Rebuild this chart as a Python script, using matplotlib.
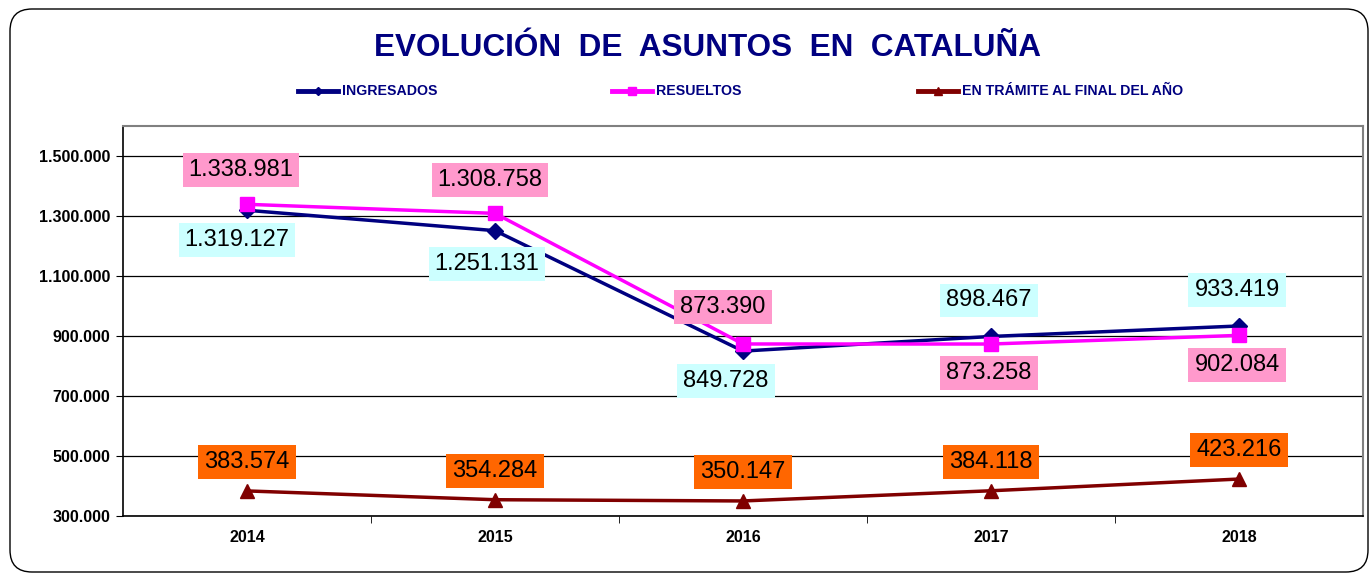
import matplotlib
matplotlib.use("Agg")
import matplotlib.pyplot as plt
from matplotlib.lines import Line2D
from matplotlib.patches import FancyBboxPatch
from matplotlib.ticker import FuncFormatter, FixedLocator

years = ["2014", "2015", "2016", "2017", "2018"]
ingresados = [1319127, 1251131, 849728, 898467, 933419]
resueltos = [1338981, 1308758, 873390, 873258, 902084]
tramite = [383574, 354284, 350147, 384118, 423216]
series_names = ["INGRESADOS", "RESUELTOS", "EN TRÁMITE AL FINAL DEL AÑO"]

def fmt(v):
    return f"{int(v):,}".replace(",", ".")

plt.rcParams['font.family'] = ['Liberation Sans', 'DejaVu Sans']

W, H = 1370, 573
fig = plt.figure(figsize=(W / 100, H / 100), dpi=100)
fig.patch.set_facecolor("white")

# rounded frame (pixel coordinates)
frame = FancyBboxPatch((10, 1), 1368 - 10, 564 - 1,
                       boxstyle="round,pad=0,rounding_size=22",
                       transform=None, fill=False, edgecolor="black", linewidth=1.0)
fig.add_artist(frame)

ax = fig.add_axes([123 / W, 1 - 516 / H, (1363 - 123) / W, (516 - 126) / H])
x = list(range(len(years)))

c_ing = "#000080"
c_res = "#FF00FF"
c_tra = "#800000"

ax.plot(x, ingresados, color=c_ing, lw=2.5, marker="D", ms=8, zorder=4)
ax.plot(x, resueltos, color=c_res, lw=2.5, marker="s", ms=10, zorder=5)
ax.plot(x, tramite, color=c_tra, lw=2.5, marker="^", ms=10, zorder=4)

ax.set_xlim(-0.5, 4.5)
ax.set_ylim(300000, 1600000)
ax.yaxis.set_major_locator(FixedLocator([300000, 500000, 700000, 900000, 1100000, 1300000, 1500000]))
ax.yaxis.set_major_formatter(FuncFormatter(lambda v, p: fmt(v)))
ax.set_xticks(x)
ax.set_xticklabels(years)
ax.set_xticks([0.5, 1.5, 2.5, 3.5], minor=True)
ax.tick_params(axis="x", which="major", length=0, pad=10)
ax.tick_params(axis="x", which="minor", length=5, direction="out", color="black")
ax.tick_params(axis="y", length=5, direction="out", pad=4)
for lab in ax.get_xticklabels() + ax.get_yticklabels():
    lab.set_fontweight("bold")
    lab.set_fontsize(11.5)
ax.grid(axis="y", color="black", lw=0.9)
ax.set_axisbelow(True)
for s in ["left", "bottom"]:
    ax.spines[s].set_color("black")
    ax.spines[s].set_linewidth(1.2)
for s in ["top", "right"]:
    ax.spines[s].set_color("#808080")
    ax.spines[s].set_linewidth(1.5)

def label(xi, yi, text, fc, dx, dy):
    # dx, dy in pixels; dy positive = downwards
    ax.annotate(text, (xi, yi), xytext=(dx * 0.72, -dy * 0.72), textcoords="offset points",
                ha="center", va="center", fontsize=17, color="black",
                bbox=dict(boxstyle="square,pad=0.25", fc=fc, ec="none"), zorder=6)

c_box_ing = "#CCFFFF"
c_box_res = "#FF99CC"
c_box_tra = "#FF6600"

ing_off = [(-10, 30), (-8, 33), (-17, 30), (-2, -36), (-2, -36)]
res_off = [(-6, -34), (-5, -33), (-20, -37), (-2, 29), (-2, 30)]
for i in x:
    label(i, ingresados[i], fmt(ingresados[i]), c_box_ing, *ing_off[i])
    label(i, resueltos[i], fmt(resueltos[i]), c_box_res, *res_off[i])
    label(i, tramite[i], fmt(tramite[i]), c_box_tra, 0, -29)

# title
fig.text(708 / W, 1 - 48 / H, "EVOLUCIÓN  DE  ASUNTOS  EN  CATALUÑA", ha="center", va="center",
         fontsize=22.7, fontweight="bold", color="#000080")

# legend
leg_items = [(298, c_ing, "D", 4), (612, c_res, "s", 6), (918, c_tra, "^", 6)]
for (lx, col, mk, ms), name in zip(leg_items, series_names):
    y = 1 - 91 / H
    fig.add_artist(Line2D([lx / W, (lx + 40) / W], [y, y], transform=fig.transFigure,
                          color=col, lw=3.5))
    fig.add_artist(Line2D([(lx + 20) / W], [y], transform=fig.transFigure, color=col,
                          marker=mk, ms=ms, lw=0))
    fig.text((lx + 44) / W, y, name, ha="left", va="center", fontsize=10.2,
             fontweight="bold", color="#000080")

fig.savefig("out.png", dpi=100)
